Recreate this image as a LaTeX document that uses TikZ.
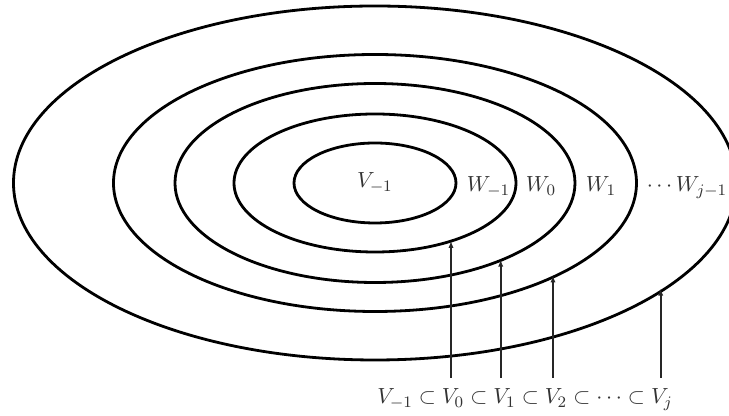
\documentclass[tikz,border=0pt]{standalone}
\usetikzlibrary{shapes.geometric,arrows.meta}
\begin{document}
\begin{tikzpicture}[x=0.5pt,y=0.5pt,
    ring/.style={draw, ellipse, line width=1.4pt, outer sep=0pt, inner sep=0pt},
    arr/.style={-{Latex[length=3.5pt,width=2.6pt]}, line width=0.9pt, black!85},
    lbl/.style={text=black!80, font=\fontsize{11}{13}\selectfont}]
    \useasboundingbox (-375,-233) rectangle (354,183);

    % Nested spaces
    \node[ring, lbl, minimum width=81pt, minimum height=40pt] (vm1) at (0,0) {$V_{-1}$};
    \node[ring, minimum width=141pt, minimum height=69pt] (v0) at (0,0) {};
    \node[ring, minimum width=200pt, minimum height=99.5pt] (v1) at (0,0) {};
    \node[ring, minimum width=261.5pt, minimum height=128.5pt] (v2) at (0,0) {};
    \node[ring, minimum width=361.5pt, minimum height=177pt] (vj) at (0,0) {};

    % Complements
    \node[lbl, anchor=base] (wm1) at (113.5,-9) {$W_{-1}$};
    \node[lbl, anchor=base] (w0) at (166,-9) {$W_0$};
    \node[lbl, anchor=base] (w1) at (226,-9) {$W_1$};
    \node[lbl, anchor=base] (wj) at (312,-9) {$\cdots W_{j-1}$};

    % Chain of subspaces
    \node[lbl, anchor=base] (chain) at (150,-221)
        {$V_{-1}\subset V_0\subset V_1\subset V_2\subset\cdots\subset V_j$};

    % Arrows
    \coordinate (b0) at (76,-195);
    \coordinate (b1) at (125.7,-195);
    \coordinate (b2) at (178,-195);
    \coordinate (bj) at (285.7,-195);
    \draw[arr, line width=1.3pt] (b0) -- (b0 |- v0.-37.4);
    \draw[arr] (b1) -- (b1 |- v1.-31.6);
    \draw[arr] (b2) -- (b2 |- v2.-27.9);
    \draw[arr] (bj) -- (bj |- vj.-20.8);
\end{tikzpicture}
\end{document}
